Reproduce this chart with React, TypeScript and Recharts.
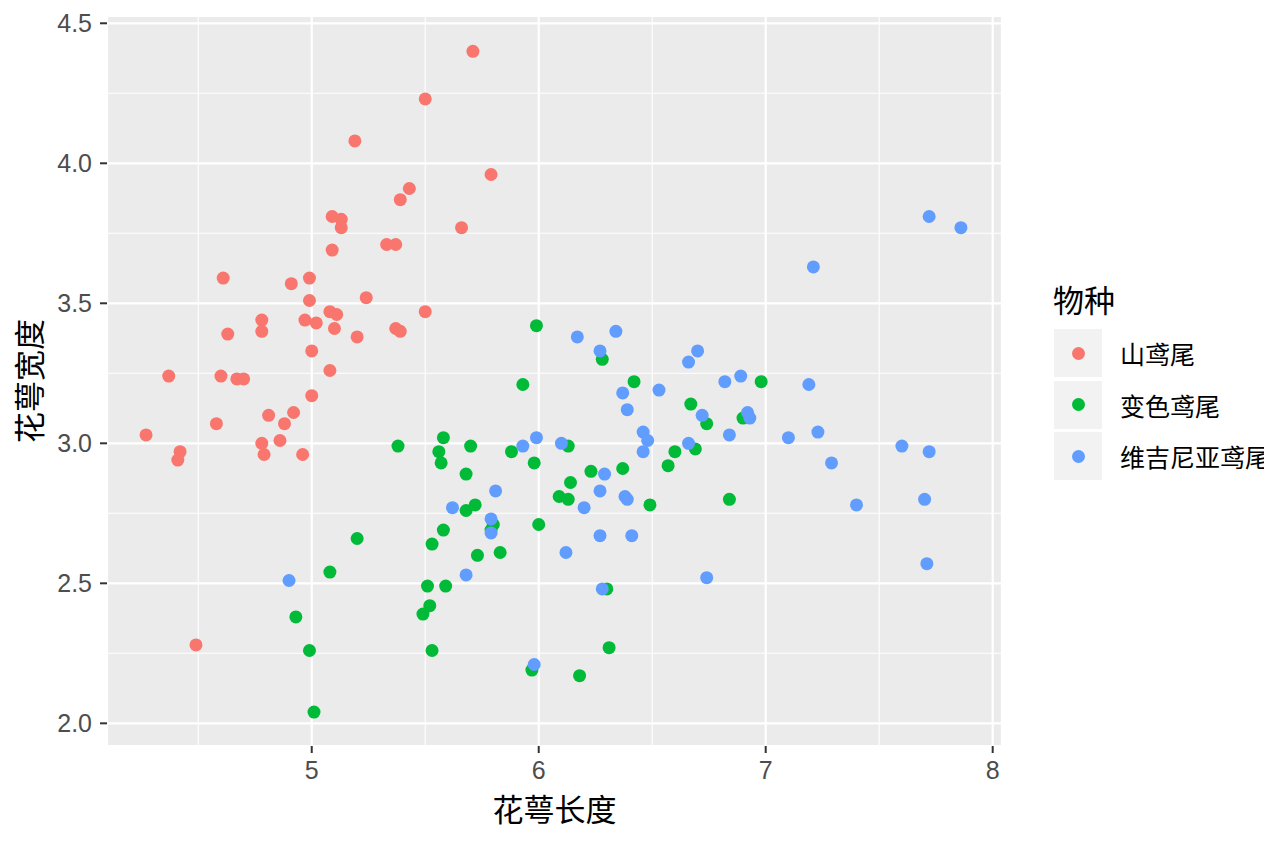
import React from 'react';
import {
  ScatterChart, Scatter, XAxis, YAxis, CartesianGrid, ReferenceLine, Legend,
} from 'recharts';

// 物种 / colours (ggplot default hue palette)
const SPECIES = ['山鸢尾', '变色鸢尾', '维吉尼亚鸢尾'];
const COLORS = ['#F8766D', '#00BA38', '#619CFF'];

// axis ticks
const X_TICKS = [5, 6, 7, 8];
const Y_TICKS = [2.0, 2.5, 3.0, 3.5, 4.0, 4.5];
const X_MINOR = [4.5, 5.5, 6.5, 7.5];
const Y_MINOR = [2.25, 2.75, 3.25, 3.75, 4.25];

// 山鸢尾 (jittered)
const setosaLength = [
  5.71, 5.50, 5.19, 5.79, 5.43, 5.39, 5.09, 5.13, 5.13, 5.66, 5.09, 5.33, 5.37,
  4.61, 4.91, 4.99, 4.99, 5.24, 5.08, 5.11, 5.50, 4.78, 4.78, 4.97, 5.02, 5.10,
  5.20, 5.37, 5.39, 4.63, 5.00, 5.08, 4.37, 4.60, 4.67, 4.70, 5.00, 4.81, 4.92,
  4.88, 4.58, 4.27, 4.78, 4.86, 4.42, 4.41, 4.79, 4.96, 4.49,
];
const setosaWidth = [
  4.40, 4.23, 4.08, 3.96, 3.91, 3.87, 3.81, 3.80, 3.77, 3.77, 3.69, 3.71, 3.71,
  3.59, 3.57, 3.59, 3.51, 3.52, 3.47, 3.46, 3.47, 3.44, 3.40, 3.44, 3.43, 3.41,
  3.38, 3.41, 3.40, 3.39, 3.33, 3.26, 3.24, 3.24, 3.23, 3.23, 3.17, 3.10, 3.11,
  3.07, 3.07, 3.03, 3.00, 3.01, 2.97, 2.94, 2.96, 2.96, 2.28,
];

// 变色鸢尾
const versicolorLength = [
  5.38, 5.58, 5.56, 5.57, 5.70, 5.68, 5.93, 5.88, 5.20, 5.08, 4.93, 4.99, 5.01,
  5.53, 5.58, 5.51, 5.59, 5.52, 5.49, 5.53, 5.68, 5.72, 5.80, 5.79, 5.73, 5.83,
  6.00, 5.97, 6.18, 6.31, 6.30, 6.09, 6.13, 6.14, 5.99, 6.28, 6.42, 6.98, 6.67,
  6.74, 6.90, 6.69, 6.60, 6.57, 5.98, 6.13, 6.23, 6.37, 6.49, 6.84,
];
const versicolorWidth = [
  2.99, 3.02, 2.97, 2.93, 2.99, 2.89, 3.21, 2.97, 2.66, 2.54, 2.38, 2.26, 2.04,
  2.64, 2.69, 2.49, 2.49, 2.42, 2.39, 2.26, 2.76, 2.78, 2.71, 2.69, 2.60, 2.61,
  2.71, 2.19, 2.17, 2.27, 2.48, 2.81, 2.80, 2.86, 3.42, 3.30, 3.22, 3.22, 3.14,
  3.07, 3.09, 2.98, 2.97, 2.92, 2.93, 2.99, 2.90, 2.91, 2.78, 2.80,
];

// 维吉尼亚鸢尾
const virginicaLength = [
  4.90, 5.93, 5.62, 5.81, 5.79, 5.79, 5.68, 6.12, 5.98, 6.28, 6.27, 6.20, 6.27,
  6.17, 6.34, 6.27, 6.70, 6.66, 6.37, 6.39, 6.53, 6.82, 6.89, 6.72, 6.92, 6.93,
  6.84, 6.46, 6.48, 6.46, 6.66, 5.99, 6.10, 6.29, 6.38, 6.39, 6.74, 6.41, 7.72,
  7.86, 7.21, 7.19, 7.10, 7.23, 7.29, 7.60, 7.72, 7.40, 7.70, 7.71,
];
const virginicaWidth = [
  2.51, 2.99, 2.77, 2.83, 2.73, 2.68, 2.53, 2.61, 2.21, 2.48, 2.67, 2.77, 2.83,
  3.38, 3.40, 3.33, 3.33, 3.29, 3.18, 3.12, 3.19, 3.22, 3.24, 3.10, 3.11, 3.09,
  3.03, 3.04, 3.01, 2.97, 3.00, 3.02, 3.00, 2.89, 2.81, 2.80, 2.52, 2.67, 3.81,
  3.77, 3.63, 3.21, 3.02, 3.04, 2.93, 2.99, 2.97, 2.78, 2.80, 2.57,
];

const toPoints = (xs: number[], ys: number[]) => xs.map((x, i) => ({ x, y: ys[i] }));

const SERIES = [
  toPoints(setosaLength, setosaWidth),
  toPoints(versicolorLength, versicolorWidth),
  toPoints(virginicaLength, virginicaWidth),
];

const CJK = "'Noto Sans CJK SC', sans-serif";
const LATIN = "'Liberation Sans', Arial, sans-serif";

const dotShape = (color: string) => (props: any) => (
  <circle cx={props.cx} cy={props.cy} r={6.5} fill={color} />
);

const renderLegend = () => (
  <div style={{ position: 'relative', width: 220, height: 220, fontFamily: CJK, color: '#000' }}>
    <div style={{ position: 'absolute', left: 0, top: 13, fontSize: 31, lineHeight: '31px', whiteSpace: 'nowrap' }}>物种</div>
    {SPECIES.map((name, i) => (
      <div key={name} style={{ position: 'absolute', left: 1, top: 59 + i * 51.5, height: 48, display: 'flex', alignItems: 'center' }}>
        <div style={{ width: 48, height: 48, background: '#F2F2F2', display: 'flex', alignItems: 'center', justifyContent: 'center' }}>
          <div style={{ width: 13, height: 13, borderRadius: '50%', background: COLORS[i] }} />
        </div>
        <span style={{ marginLeft: 18, fontSize: 25, whiteSpace: 'nowrap' }}>{name}</span>
      </div>
    ))}
  </div>
);

const App: React.FC = () => {
  return (
    <div style={{ position: 'absolute', left: 0, top: 0, width: 1264, height: 843, overflow: 'hidden', background: '#fff', fontFamily: LATIN }}>
      <ScatterChart width={1264} height={843} margin={{ top: 16, right: 262, bottom: 0, left: 0 }}>
        <CartesianGrid fill="#EBEBEB" fillOpacity={1} stroke="#FFFFFF" strokeWidth={2.2} />
        {X_MINOR.map((v) => (
          <ReferenceLine key={`xm-${v}`} x={v} stroke="#FFFFFF" strokeWidth={1.1} />
        ))}
        {Y_MINOR.map((v) => (
          <ReferenceLine key={`ym-${v}`} y={v} stroke="#FFFFFF" strokeWidth={1.1} />
        ))}
        <XAxis
          type="number"
          dataKey="x"
          domain={[4.098, 8.041]}
          ticks={X_TICKS}
          allowDataOverflow
          height={97}
          axisLine={false}
          tickLine={{ stroke: '#333333', strokeWidth: 2 }}
          tickSize={7}
          tickMargin={8}
          tick={{ fill: '#4D4D4D', fontSize: 25, fontFamily: LATIN }}
          label={{ value: '花萼长度', position: 'insideBottom', offset: 22, fill: '#000', fontSize: 31, fontFamily: CJK }}
        />
        <YAxis
          type="number"
          dataKey="y"
          domain={[1.919, 4.526]}
          ticks={Y_TICKS}
          allowDataOverflow
          width={107}
          axisLine={false}
          tickLine={{ stroke: '#333333', strokeWidth: 2 }}
          tickSize={7}
          tickMargin={8}
          tickFormatter={(v: number) => v.toFixed(1)}
          tick={{ fill: '#4D4D4D', fontSize: 25, fontFamily: LATIN }}
          label={{ value: '花萼宽度', angle: -90, position: 'insideLeft', offset: 30, textAnchor: 'middle', fill: '#000', fontSize: 31, fontFamily: CJK }}
        />
        <Legend
          layout="vertical"
          align="center"
          verticalAlign="middle"
          content={renderLegend}
          wrapperStyle={{ left: 1053, top: 270, width: 220 }}
        />
        {SERIES.map((pts, i) => (
          <Scatter
            key={SPECIES[i]}
            name={SPECIES[i]}
            data={pts}
            fill={COLORS[i]}
            shape={dotShape(COLORS[i])}
            isAnimationActive={false}
          />
        ))}
      </ScatterChart>
    </div>
  );
};

export default App;
